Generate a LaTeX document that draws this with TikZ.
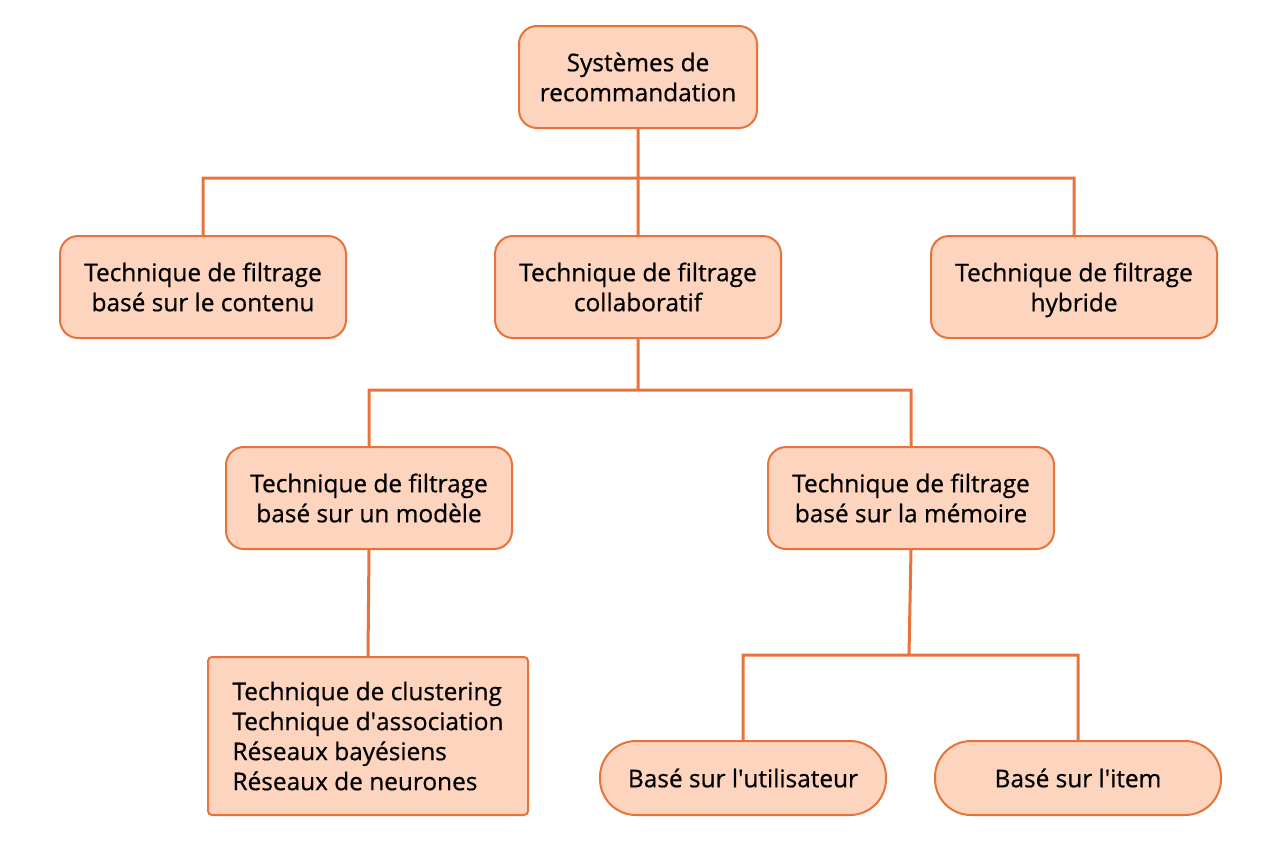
\documentclass[tikz,border=0pt]{standalone}
\usepackage{fontspec}
\setmainfont{Open Sans}[FakeBold=0.6]
\usetikzlibrary{positioning}
\definecolor{peach}{HTML}{FDD5BF}
\definecolor{rust}{HTML}{E8733A}
\tikzset{
    box/.style={draw=rust, fill=peach, line width=1pt, rounded corners=9pt,
        minimum width=143pt, minimum height=51pt, align=center, font=\fontsize{12.2}{15}\selectfont},
    listbox/.style={box, rounded corners=2pt, minimum width=160pt, minimum height=79pt, align=left},
    pill/.style={box, rounded corners=18pt, minimum height=37pt},
    link/.style={draw=rust, line width=1.5pt}
}

\begin{document}
\begin{tikzpicture}[x=0.5pt, y=-0.5pt]
    \useasboundingbox (0, 0) rectangle (1280, 843);
    % top
    \node[box, minimum width=119pt] (root) at (638, 77) {Systèmes de\\recommandation};
    \node[box] (contenu) at (203, 287) {Technique de filtrage\\basé sur le contenu};
    \node[box] (collab) at (638, 287) {Technique de filtrage\\collaboratif};
    \node[box] (hybride) at (1074, 287) {Technique de filtrage\\\smash{hybride}};
    % second level
    \node[box] (modele) at (369, 498) {Technique de filtrage\\basé sur un modèle};
    \node[box] (memoire) at (911, 498) {Technique de filtrage\\basé sur la mémoire};
    \node[listbox] (liste) at (368, 736) {Technique de clustering\\Technique d\textquotesingle association\\Réseaux bayésiens\\Réseaux de neurones};
    \node[pill] (user) at (743, 778) {Basé sur l\textquotesingle utilisateur};
    \node[pill] (item) at (1078, 778) {Basé sur l\textquotesingle item};
    % junctions
    \coordinate (j1) at (638, 178);
    \coordinate (j2) at (638, 390);
    \coordinate (j3) at (909, 655);
    \draw[link]
    (root.south) -- (j1)
    (j1) -| (contenu.north)
    (j1) -| (hybride.north)
    (j1) -- (collab.north)
    (collab.south) -- (j2)
    (j2) -| (modele.north)
    (j2) -| (memoire.north)
    (modele.south) -- (liste.north)
    (memoire.south) -- (j3)
    (j3) -| (user.north)
    (j3) -| (item.north);
\end{tikzpicture}
\end{document}
